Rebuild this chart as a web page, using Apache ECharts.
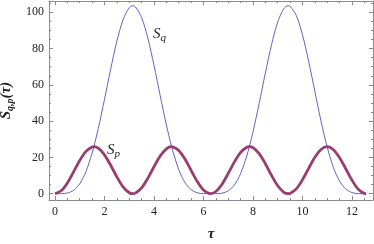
<!DOCTYPE html>
<html>
<head>
<meta charset="utf-8">
<script src="https://cdn.jsdelivr.net/npm/echarts@6/dist/echarts.min.js"></script>
<style>html,body{margin:0;padding:0;background:#fff}#c{width:374px;height:244px}</style>
</head>
<body>
<div id="c"></div>
<script>
// tau sample points
const tau = [0,0.25,0.5,0.75,1,1.25,1.5,1.57,1.75,2,2.25,2.5,2.75,3,3.14,3.25,3.5,3.75,4,4.25,4.5,4.71,4.75,5,5.25,5.5,5.75,6,6.25,6.28,6.5,6.75,7,7.25,7.5,7.75,7.85,8,8.25,8.5,8.75,9,9.25,9.42,9.5,9.75,10,10.25,10.5,10.75,11,11.25,11.5,11.75,12,12.25,12.5,12.57];
const sq  = [0,0.03,0.39,1.86,5.47,12.14,22.37,25.9,35.95,51.94,68.66,84.02,95.90,102.57,103.6,102.99,97.13,85.85,70.82,54.16,37.97,25.9,23.99,13.29,6.18,2.20,0.50,0.04,0,0,0.01,0.30,1.57,4.84,11.06,20.80,25.9,33.98,49.73,66.47,82.13,94.60,102.03,103.6,103.31,98.25,87.60,72.96,56.39,40.02,25.67,14.50,6.91,2.57,0.63,0.06,0,0];
const sp  = [0,1.59,5.95,12.03,18.34,23.33,25.77,25.9,25.08,21.42,15.68,9.28,3.77,0.52,0,0.31,3.19,8.46,14.84,20.75,24.75,25.9,25.86,23.82,19.12,12.89,6.69,2.02,0.03,0,1.20,5.25,11.18,17.55,22.79,25.62,25.9,25.35,22.05,16.51,10.11,4.40,0.78,0,0.15,2.64,7.66,13.98,20.04,24.37,25.90,24.26,19.85,13.75,7.45,2.50,0.11,0];
const xTicks = [0,2,4,6,8,10,12];
const xMinor = [0.5,1,1.5,2.5,3,3.5,4.5,5,5.5,6.5,7,7.5,8.5,9,9.5,10.5,11,11.5,12.5];
const yTicks = [0,20,40,60,80,100];
const yMinor = [5,10,15,25,30,35,45,50,55,65,70,75,85,90,95,105];

const X_MIN=-0.242, X_MAX=12.85, Y_MIN=-3.47, Y_MAX=106.2;
const frame = '#8a8a8a';
const serif = 'Liberation Serif';

function xAx(pos, values, len, labels, line){
  return {type:'value', position:pos, min:X_MIN, max:X_MAX,
    axisLine:{show:line, onZero:false, lineStyle:{color:frame,width:1}},
    axisTick:{show:true, inside:true, length:len, customValues:values, lineStyle:{color:frame,width:1}},
    axisLabel:{show:labels, customValues:values, fontFamily:serif, fontSize:12, color:'#222', margin:6},
    splitLine:{show:false}};
}
function yAx(pos, values, len, labels, line){
  return {type:'value', position:pos, min:Y_MIN, max:Y_MAX,
    axisLine:{show:line, onZero:false, lineStyle:{color:frame,width:1}},
    axisTick:{show:true, inside:true, length:len, customValues:values, lineStyle:{color:frame,width:1}},
    axisLabel:{show:labels, customValues:values, fontFamily:serif, fontSize:12, color:'#222', margin:5},
    splitLine:{show:false}};
}

const xAxes = [xAx('bottom', xTicks, 4, true, true), xAx('bottom', xMinor, 2, false, false),
               xAx('top', xTicks, 4, false, true), xAx('top', xMinor, 2, false, false)];
const yAxes = [yAx('left', yTicks, 4, true, true), yAx('left', yMinor, 2, false, false),
               yAx('right', yTicks, 4, false, true), yAx('right', yMinor, 2, false, false)];
xAxes[0].name = 'τ';
xAxes[0].nameLocation = 'middle';
xAxes[0].nameGap = 27;
xAxes[0].nameTextStyle = {fontFamily:serif, fontStyle:'italic', fontWeight:'bold', fontSize:15, color:'#222'};
yAxes[0].name = '{s|S}{sub|q,p}{s|(τ)}';
yAxes[0].nameLocation = 'middle';
yAxes[0].nameRotate = 90;
yAxes[0].nameGap = 24;
yAxes[0].nameTextStyle = {rich:{
  s:{fontFamily:serif, fontStyle:'italic', fontWeight:'bold', fontSize:15, color:'#222'},
  sub:{fontFamily:serif, fontStyle:'italic', fontWeight:'bold', fontSize:10, color:'#222', verticalAlign:'bottom', padding:[8,0,0,0]}
}};

const subRich = {
  s:{fontFamily:serif, fontStyle:'italic', fontSize:15, fill:'#222'},
  sub:{fontFamily:serif, fontStyle:'italic', fontSize:11, fill:'#222', padding:[8,0,0,0]}};

const chart = echarts.init(document.getElementById('c'), null, {renderer:'canvas'});
chart.setOption({
  animation:false,
  grid:{left:49, right:1, top:1, bottom:44, show:false, containLabel:false, outerBoundsMode:'none'},
  xAxis:xAxes, yAxis:yAxes,
  series:[
    {type:'line', name:'Sq', xAxisIndex:0, yAxisIndex:0, data:tau.map((t,i)=>[t,sq[i]]),
     showSymbol:false, smooth:0.3, lineStyle:{color:'#6262c0', width:1}},
    {type:'line', name:'Sp', xAxisIndex:0, yAxisIndex:0, data:tau.map((t,i)=>[t,sp[i]]),
     showSymbol:false, smooth:0.3, lineStyle:{color:'#993d71', width:2.8}}
  ],
  graphic:[
    {type:'text', left:153, top:27, style:{text:'{s|S}{sub|q}', rich:subRich}},
    {type:'text', left:107, top:143, style:{text:'{s|S}{sub|p}', rich:subRich}}
  ]
});
</script>
</body>
</html>
